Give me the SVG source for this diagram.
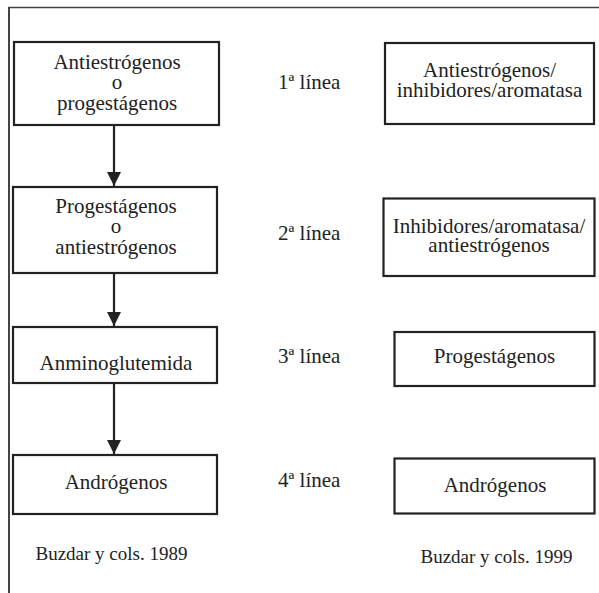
<svg xmlns="http://www.w3.org/2000/svg" width="599" height="593" viewBox="0 0 599 593">
<style>
.box{fill:#fff;stroke:#222;stroke-width:2.2}
.t{font-family:"Liberation Serif","Times New Roman",serif;font-size:21px;fill:#222;text-anchor:middle}
.lab{font-family:"Liberation Serif","Times New Roman",serif;font-size:21px;fill:#222}
.ref{font-family:"Liberation Serif","Times New Roman",serif;font-size:19px;fill:#222;text-anchor:middle}
.frame{stroke:#444;fill:none}
.conn{stroke:#222;stroke-width:2.2;fill:none}
</style>
<defs>
<marker id="ah" markerWidth="14" markerHeight="16" refX="14" refY="7" orient="auto" markerUnits="userSpaceOnUse">
<path d="M0,0 L14,7 L0,14 Z" fill="#222"/>
</marker>
</defs>
<g id="frame">
<line class="frame" x1="8" y1="7.5" x2="599" y2="7.5" stroke-width="1.5"/>
<line class="frame" x1="9" y1="7" x2="9" y2="593" stroke-width="2"/>
</g>
<g id="connectors">
<line class="conn" x1="114" y1="125" x2="114" y2="186" marker-end="url(#ah)"/>
<line class="conn" x1="114" y1="273" x2="114" y2="326" marker-end="url(#ah)"/>
<line class="conn" x1="114" y1="383" x2="114" y2="454" marker-end="url(#ah)"/>
</g>
<g id="n1">
<rect class="box" x="14" y="42" width="205" height="83"/>
<text class="t" x="117" y="69">Antiestrógenos</text>
<text class="t" x="117" y="89">o</text>
<text class="t" x="117" y="110">progestágenos</text>
</g>
<g id="n2">
<rect class="box" x="13" y="187" width="204" height="86"/>
<text class="t" x="116" y="213">Progestágenos</text>
<text class="t" x="116" y="233">o</text>
<text class="t" x="116" y="254">antiestrógenos</text>
</g>
<g id="n3">
<rect class="box" x="13" y="327" width="204" height="56"/>
<text class="t" x="116" y="370">Anminoglutemida</text>
</g>
<g id="n4">
<rect class="box" x="13" y="455" width="204" height="59"/>
<text class="t" x="116" y="489">Andrógenos</text>
</g>
<g id="labels">
<text class="lab" x="278" y="89">1ª línea</text>
<text class="lab" x="278" y="240">2ª línea</text>
<text class="lab" x="278" y="363">3ª línea</text>
<text class="lab" x="278" y="487">4ª línea</text>
</g>
<g id="r1">
<rect class="box" x="385" y="43" width="209" height="81"/>
<text class="t" x="489.5" y="77">Antiestrógenos/</text>
<text class="t" x="489.5" y="96.5">inhibidores/aromatasa</text>
</g>
<g id="r2">
<rect class="box" x="383.5" y="198.5" width="211" height="77.5"/>
<text class="t" x="489" y="233">Inhibidores/aromatasa/</text>
<text class="t" x="489" y="252">antiestrógenos</text>
</g>
<g id="r3">
<rect class="box" x="394.5" y="332" width="200" height="54"/>
<text class="t" x="494.5" y="363">Progestágenos</text>
</g>
<g id="r4">
<rect class="box" x="394.5" y="458.5" width="200" height="55"/>
<text class="t" x="495" y="492">Andrógenos</text>
</g>
<g id="refs">
<text class="ref" x="111.5" y="560">Buzdar y cols. 1989</text>
<text class="ref" x="496.5" y="563">Buzdar y cols. 1999</text>
</g>
</svg>
